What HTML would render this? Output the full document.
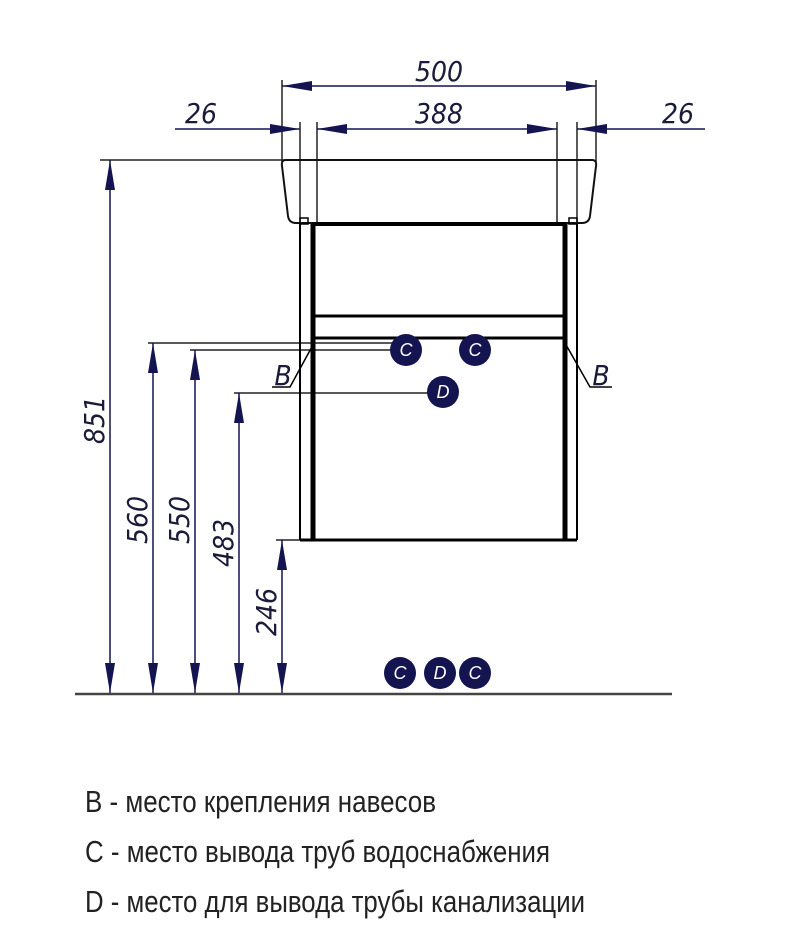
<!DOCTYPE html>
<html><head><meta charset="utf-8"><style>
html,body{margin:0;padding:0;background:#fff;width:797px;height:950px;overflow:hidden}
svg{display:block}
.d{font-family:"DejaVu Sans Condensed","Liberation Sans",sans-serif;font-style:italic;font-size:28px;fill:#1a1a3a}
.l{font-family:"Liberation Sans",sans-serif;font-size:31px;fill:#222}
.c{font-family:"Liberation Sans",sans-serif;font-style:italic;font-size:18px;fill:#fff;text-anchor:middle}
</style></head><body>
<svg width="797" height="950" viewBox="0 0 797 950">
<defs>
<marker id="a" viewBox="0 0 30 10" refX="30" refY="5" markerWidth="30" markerHeight="10" markerUnits="userSpaceOnUse" orient="auto"><path d="M0,0 L30,5 L0,10 Z" fill="#141450"/></marker>
</defs>
<g stroke="#222" stroke-width="1.5" fill="none">
<line x1="282" y1="80" x2="282" y2="162"/>
<line x1="596" y1="80" x2="596" y2="162"/>
<line x1="300" y1="122" x2="300" y2="224"/>
<line x1="317" y1="122" x2="317" y2="224"/>
<line x1="557" y1="122" x2="557" y2="224"/>
<line x1="577" y1="122" x2="577" y2="224"/>
<line x1="100" y1="160" x2="290" y2="160"/>
<line x1="148" y1="343" x2="395" y2="343"/>
<line x1="190" y1="350" x2="395" y2="350"/>
<line x1="234" y1="393" x2="430" y2="393"/>
<line x1="276" y1="540" x2="300" y2="540"/>
</g>
<g stroke="#141450" stroke-width="1.5" fill="none">
<line x1="439" y1="86" x2="282" y2="86" marker-end="url(#a)"/>
<line x1="439" y1="86" x2="596" y2="86" marker-end="url(#a)"/>
<line x1="439" y1="129" x2="317" y2="129" marker-end="url(#a)"/>
<line x1="439" y1="129" x2="557" y2="129" marker-end="url(#a)"/>
<line x1="175" y1="129" x2="300" y2="129" marker-end="url(#a)"/>
<line x1="705" y1="129" x2="577" y2="129" marker-end="url(#a)"/>
<line x1="110" y1="400" x2="110" y2="160" marker-end="url(#a)"/>
<line x1="110" y1="400" x2="110" y2="693" marker-end="url(#a)"/>
<line x1="153" y1="500" x2="153" y2="343" marker-end="url(#a)"/>
<line x1="153" y1="500" x2="153" y2="693" marker-end="url(#a)"/>
<line x1="195" y1="500" x2="195" y2="350" marker-end="url(#a)"/>
<line x1="195" y1="500" x2="195" y2="693" marker-end="url(#a)"/>
<line x1="239" y1="550" x2="239" y2="393" marker-end="url(#a)"/>
<line x1="239" y1="550" x2="239" y2="693" marker-end="url(#a)"/>
<line x1="282" y1="620" x2="282" y2="540" marker-end="url(#a)"/>
<line x1="282" y1="620" x2="282" y2="693" marker-end="url(#a)"/>
</g>
<path d="M286,160 L592,160 Q597,160 596,166 L590,216 Q589,223 582,223 L296,223 Q289,223 288,216 L282,166 Q281,160 286,160 Z" fill="none" stroke="#111" stroke-width="2"/>
<line x1="312" y1="224" x2="566" y2="224" stroke="#000" stroke-width="4"/>
<g stroke="#000" fill="none">
<rect x="300" y="218" width="8" height="6" stroke-width="1.5"/>
<rect x="569" y="218" width="8" height="6" stroke-width="1.5"/>
<line x1="300" y1="222" x2="300" y2="540" stroke-width="2"/>
<line x1="577" y1="222" x2="577" y2="540" stroke-width="2"/>
<line x1="313" y1="224" x2="313" y2="540" stroke-width="5"/>
<line x1="565" y1="224" x2="565" y2="540" stroke-width="5"/>
<line x1="300" y1="540" x2="577" y2="540" stroke-width="3"/>
<line x1="313" y1="316" x2="565" y2="316" stroke-width="3"/>
<line x1="313" y1="338" x2="565" y2="338" stroke-width="3"/>
<rect x="311" y="316" width="4" height="22" stroke-width="1"/>
<rect x="563" y="316" width="4" height="22" stroke-width="1"/>
<polyline points="314,343 290,387 272,387" stroke-width="1.5"/>
<polyline points="565,343 590,387 612,387" stroke-width="1.5"/>
</g>
<line x1="75" y1="694" x2="672" y2="694" stroke="#444" stroke-width="2.5"/>
<text class="d" x="439" y="81" text-anchor="middle">500</text>
<text class="d" x="439" y="123" text-anchor="middle">388</text>
<text class="d" x="201" y="123" text-anchor="middle">26</text>
<text class="d" x="678" y="123" text-anchor="middle">26</text>
<text class="d" x="283" y="385" text-anchor="middle">B</text>
<text class="d" x="601" y="385" text-anchor="middle">B</text>
<text class="d" transform="translate(104,420) rotate(-90)" text-anchor="middle">851</text>
<text class="d" transform="translate(147,520) rotate(-90)" text-anchor="middle">560</text>
<text class="d" transform="translate(189,520) rotate(-90)" text-anchor="middle">550</text>
<text class="d" transform="translate(233,543) rotate(-90)" text-anchor="middle">483</text>
<text class="d" transform="translate(276,612) rotate(-90)" text-anchor="middle">246</text>
<g fill="#141450">
<circle cx="406" cy="350" r="16"/><circle cx="475" cy="350" r="16"/><circle cx="443" cy="392" r="16"/>
<circle cx="400" cy="673" r="16"/><circle cx="440" cy="673" r="16"/><circle cx="475" cy="673" r="16"/>
</g>
<text class="c" x="406" y="356">C</text><text class="c" x="475" y="356">C</text><text class="c" x="443" y="398">D</text>
<text class="c" x="400" y="679">C</text><text class="c" x="440" y="679">D</text><text class="c" x="475" y="679">C</text>
<text class="l" x="85" y="812" textLength="351" lengthAdjust="spacingAndGlyphs">B - место крепления навесов</text>
<text class="l" x="85" y="862" textLength="465" lengthAdjust="spacingAndGlyphs">C - место вывода труб водоснабжения</text>
<text class="l" x="85" y="912" textLength="500" lengthAdjust="spacingAndGlyphs">D - место для вывода трубы канализации</text>
</svg>
</body></html>
